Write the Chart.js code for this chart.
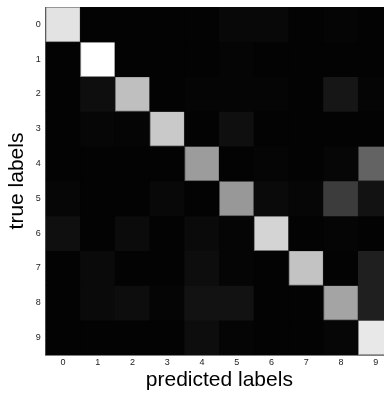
<!DOCTYPE html>
<html>
<head>
<meta charset="utf-8">
<script src="https://cdn.jsdelivr.net/npm/chart.js@4/dist/chart.umd.min.js"></script>
<style>
  html, body { margin: 0; padding: 0; background: #fff; overflow: hidden; }
  canvas { display: block; }
</style>
</head>
<body>
<canvas id="c" width="394" height="394"></canvas>
<script>
// categories
const predictedLabels = ['0','1','2','3','4','5','6','7','8','9'];
const trueLabels = [0,1,2,3,4,5,6,7,8,9];
// normalized confusion values (0 = black, 1 = white), one array per true label
const row0 = [0.89, 0.01, 0.01, 0.01, 0.01, 0.03, 0.03, 0.01, 0.02, 0.01];
const row1 = [0.01, 1.00, 0.01, 0.01, 0.01, 0.02, 0.01, 0.01, 0.01, 0.01];
const row2 = [0.01, 0.055, 0.75, 0.01, 0.02, 0.02, 0.02, 0.01, 0.085, 0.02];
const row3 = [0.01, 0.025, 0.02, 0.79, 0.01, 0.06, 0.01, 0.01, 0.01, 0.01];
const row4 = [0.01, 0.01, 0.01, 0.01, 0.61, 0.01, 0.02, 0.01, 0.025, 0.39];
const row5 = [0.025, 0.01, 0.01, 0.03, 0.01, 0.595, 0.04, 0.025, 0.235, 0.07];
const row6 = [0.06, 0.01, 0.045, 0.01, 0.04, 0.02, 0.83, 0.01, 0.02, 0.01];
const row7 = [0.01, 0.04, 0.01, 0.01, 0.05, 0.02, 0.01, 0.765, 0.01, 0.12];
const row8 = [0.01, 0.04, 0.05, 0.02, 0.07, 0.07, 0.01, 0.01, 0.645, 0.12];
const row9 = [0.01, 0.01, 0.01, 0.01, 0.05, 0.02, 0.01, 0.01, 0.025, 0.91];
const rows = [row0,row1,row2,row3,row4,row5,row6,row7,row8,row9];

function gray(v) { const g = Math.round(Math.max(0, Math.min(1, v)) * 255); return `rgb(${g},${g},${g})`; }

const datasets = rows.map((vals, r) => ({
  label: String(trueLabels[r]),
  data: predictedLabels.map(() => [trueLabels[r] - 0.5, trueLabels[r] + 0.5]),
  backgroundColor: vals.map(v => gray(v)),
  borderColor: vals.map(v => gray(v * 0.55)),
  borderWidth: vals.map(v => (v > 0.3 ? 1 : 0)),
  borderSkipped: false,
  barPercentage: 1,
  categoryPercentage: 1,
  grouped: false
}));

const bgPlugin = {
  id: 'areaBg',
  beforeDatasetsDraw(chart) {
    const a = chart.chartArea, ctx = chart.ctx;
    ctx.save(); ctx.fillStyle = '#000';
    ctx.fillRect(a.left, a.top, a.right - a.left, a.bottom - a.top);
    ctx.restore();
  }
};

const tickFont = { family: "'Liberation Sans Narrow', 'Liberation Sans', Arial, sans-serif", size: 9 };
const titleFont = { family: "'Liberation Sans', Arial, sans-serif", size: 21 };

new Chart(document.getElementById('c'), {
  type: 'bar',
  data: { labels: predictedLabels, datasets },
  plugins: [bgPlugin],
  options: {
    responsive: false,
    animation: false,
    layout: { padding: { top: 7, right: 1, left: 0, bottom: 0 } },
    plugins: { legend: { display: false }, tooltip: { enabled: false } },
    scales: {
      x: {
        type: 'category',
        offset: true,
        z: 1,
        grid: { display: true, drawOnChartArea: false, offset: false, tickLength: -3, tickColor: '#000', tickWidth: 1 },
        border: { display: true, color: '#7f7f7f', width: 1 },
        ticks: { color: '#222', font: tickFont, padding: 5, maxRotation: 0 },
        title: { display: true, text: 'predicted labels', color: '#000', font: titleFont, padding: { top: 0, bottom: 1 } },
        afterFit(scale) { scale.height = 39; scale.paddingLeft = 0; scale.paddingRight = 0; }
      },
      xTop: {
        type: 'category',
        position: 'top',
        labels: predictedLabels,
        offset: true,
        z: 1,
        grid: { display: true, drawOnChartArea: false, offset: false, tickLength: -3, tickColor: '#000', tickWidth: 1 },
        border: { display: false },
        ticks: { display: false },
        afterFit(scale) { scale.height = 0; scale.paddingLeft = 0; scale.paddingRight = 0; }
      },
      y: {
        type: 'linear',
        reverse: true,
        min: -0.5,
        max: 9.5,
        z: 1,
        afterBuildTicks(scale) { scale.ticks = trueLabels.map(v => ({ value: v })); },
        grid: { display: true, drawOnChartArea: false, tickLength: -3, tickColor: '#000', tickWidth: 1 },
        border: { display: true, color: '#7f7f7f', width: 1 },
        ticks: { color: '#222', font: tickFont, padding: 8, callback: v => String(v) },
        title: { display: true, text: 'true labels', color: '#000', font: titleFont, padding: { top: 5, bottom: 0 } },
        afterFit(scale) { scale.width = 45.7; scale.paddingTop = 0; scale.paddingBottom = 0; }
      }
    }
  }
});
</script>
</body>
</html>
